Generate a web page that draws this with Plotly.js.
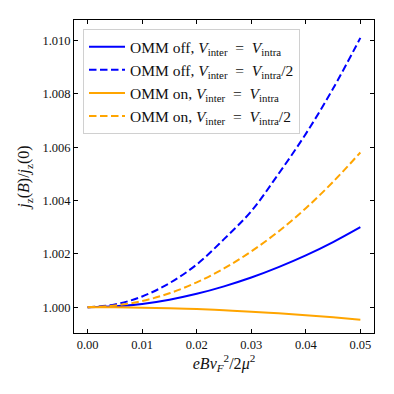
<!DOCTYPE html>
<html>
<head>
<meta charset="utf-8">
<script src="https://cdn.plot.ly/plotly-3.0.1.min.js"></script>
<style>
  html, body { margin: 0; padding: 0; background: #fff; }
  #chart { width: 394px; height: 394px; }
</style>
</head>
<body>
<div id="chart"></div>
<script>
// field values, x axis = eBv_F^2 / 2mu^2
const xVals = [0, 0.005, 0.01, 0.015, 0.02, 0.025, 0.03, 0.035, 0.04, 0.045, 0.05];

// j_z(B)/j_z(0)
const offSame = [1.0000, 1.00003, 1.00012, 1.00028, 1.0005, 1.00078, 1.00111, 1.0015, 1.00194, 1.00244, 1.0030];
const offHalf = [1.0000, 1.0001, 1.0004, 1.0009, 1.0016, 1.00255, 1.0036, 1.0050, 1.0065, 1.0082, 1.0101];
const onSame = [1.0000, 0.999995, 0.99998, 0.99996, 0.99993, 0.99988, 0.99983, 0.99977, 0.99970, 0.99962, 0.99953];
const onHalf = [1.0000, 1.00006, 1.00023, 1.00052, 1.00093, 1.00145, 1.00209, 1.00284, 1.00371, 1.0047, 1.0058];

const xTicks = [0, 0.01, 0.02, 0.03, 0.04, 0.05];
const xTickText = ['0.00', '0.01', '0.02', '0.03', '0.04', '0.05'];
const yTicks = [1.000, 1.002, 1.004, 1.006, 1.008, 1.010];
const yTickText = ['1.000', '1.002', '1.004', '1.006', '1.008', '1.010'];

const names = [
  'OMM off, <i>V</i><sub>inter</sub>\u2002=\u2002<i>V</i><sub>intra</sub>',
  'OMM off, <i>V</i><sub>inter</sub>\u2002=\u2002<i>V</i><sub>intra</sub>/2',
  'OMM on, <i>V</i><sub>inter</sub>\u2002=\u2002<i>V</i><sub>intra</sub>',
  'OMM on, <i>V</i><sub>inter</sub>\u2002=\u2002<i>V</i><sub>intra</sub>/2'
];

const blue = '#0000ff';
const orange = '#ffa500';
const dash = '7.5px,3.5px';

function trace(y, name, color, dashed) {
  return {
    x: xVals, y: y, name: name, mode: 'lines', type: 'scatter',
    line: { color: color, width: 2, dash: dashed ? dash : 'solid', shape: 'spline' }
  };
}

const data = [
  trace(offSame, names[0], blue, false),
  trace(offHalf, names[1], blue, true),
  trace(onSame, names[2], orange, false),
  trace(onHalf, names[3], orange, true)
];

const axisCommon = {
  showgrid: false, zeroline: false,
  showline: true, linecolor: '#000', linewidth: 1, mirror: 'ticks',
  ticks: 'inside', ticklen: 4, tickwidth: 1, tickcolor: '#000',
  tickfont: { family: 'Liberation Serif, serif', size: 12.5, color: '#111' }
};

const layout = {
  width: 394, height: 394,
  margin: { l: 74, r: 20, t: 20, b: 61 },
  paper_bgcolor: '#fff', plot_bgcolor: '#fff',
  font: { family: 'Liberation Serif, serif', color: '#111' },
  showlegend: true,
  legend: {
    x: 0.03, y: 0.971, xanchor: 'left', yanchor: 'top',
    bgcolor: 'rgba(255,255,255,0.8)', bordercolor: '#d0d0d0', borderwidth: 1,
    font: { family: 'Liberation Serif, serif', size: 15.5, color: '#111' },
    tracegroupgap: 0, itemwidth: 36
  },
  xaxis: Object.assign({}, axisCommon, {
    range: [-0.0025, 0.0525],
    tickvals: xTicks, ticktext: xTickText,
    title: { text: '<i>eBv</i><sub><i>F</i></sub><sup>2</sup>/2<i>μ</i><sup>2</sup>', font: { size: 16 }, standoff: 6 }
  }),
  yaxis: Object.assign({}, axisCommon, {
    range: [0.99903, 1.01077],
    tickvals: yTicks, ticktext: yTickText,
    title: { text: '<i>j</i><sub>z</sub>(<i>B</i>)/<i>j</i><sub>z</sub>(0)', font: { size: 16 }, standoff: 8 }
  })
};

Plotly.newPlot('chart', data, layout, { displayModeBar: false, staticPlot: true });
</script>
</body>
</html>
